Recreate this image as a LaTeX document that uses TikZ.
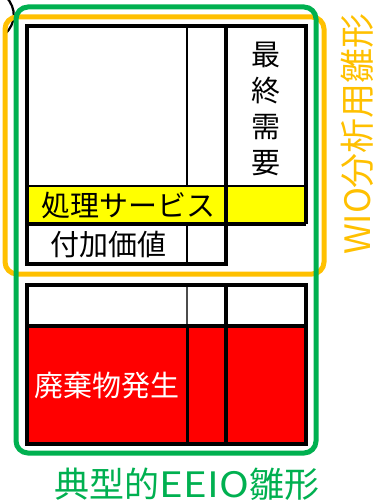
\documentclass[tikz,border=0pt]{standalone}
\usepackage{fontspec}
\setmainfont{Noto Sans CJK JP}
\definecolor{oran}{HTML}{FFC000}
\definecolor{gren}{HTML}{00B050}
\definecolor{yel}{HTML}{FFFF00}
\definecolor{redf}{HTML}{FF0000}
\tikzset{
  thickline/.style={line width=4pt,black},
  thinline/.style={line width=1.8pt,black},
  cell/.style={inner sep=0pt,font=\fontsize{29}{34}\selectfont},
  frameo/.style={draw=oran,line width=5pt,rounded corners=12pt},
  frameg/.style={draw=gren,line width=5pt,rounded corners=12pt},
}
\begin{document}
\begin{tikzpicture}[x=1pt,y=-1pt]
\useasboundingbox (0,0) rectangle (375,503);
% cropped arc top-left
\draw[line width=2.2pt] (6,-3) .. controls (17,8) and (16,24) .. (5,34);
% fills
\fill[yel] (27,186) rectangle (306,224);
\fill[redf] (27,326) rectangle (306,444);
% top table
\draw[thinline] (187,26) -- (187,186);
\draw[thinline] (187,224) -- (187,264);
\draw[thinline] (27,186) -- (306,186);
\draw[thickline] (226,26) -- (226,264);
\draw[thickline] (27,224) -- (306,224);
\draw[thickline] (306,224) -- (306,26) -- (27,26) -- (27,264) -- (228,264);
% bottom table
\draw[line width=1.2pt,black!70] (187,285) -- (187,326);
\draw[line width=3pt] (187,326) -- (187,444);
\draw[thickline] (226,285) -- (226,444);
\draw[line width=3.5pt] (27,326) -- (306,326);
\draw[thickline] (27,285) rectangle (306,444);
% frames
\draw[frameo] (5,17) rectangle (324,274);
\draw[frameg] (16,7) rectangle (316,453);
% texts
\node[cell] (shori) at (128,206) {処理サービス};
\node[cell] (fuka) at (108,245) {付加価値};
\node[cell,align=center,font=\fontsize{29}{36}\selectfont] (saishu) at (266,109) {最\\終\\需\\要};
\node[cell,text=white] (haiki) at (107,386) {廃棄物発生};
\node[inner sep=0pt,text=gren,font=\fontsize{35}{40}\selectfont] (eeio) at (187,484) {典型的\scalebox{1.15}[1]{EEIO}雛形};
\node[inner sep=0pt,text=oran,rotate=90,font=\fontsize{35}{40}\selectfont] (wio) at (357,134) {WIO分析用雛形};
\end{tikzpicture}
\end{document}
